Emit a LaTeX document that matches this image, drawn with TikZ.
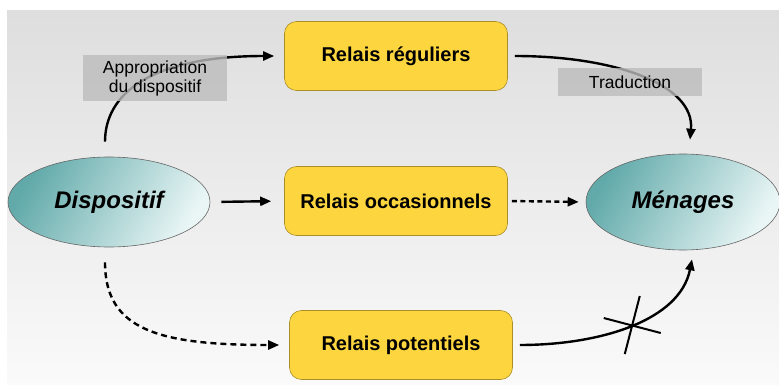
\documentclass[tikz,border=0pt]{standalone}
\usepackage{fontspec}
\setmainfont{Liberation Sans}
\usetikzlibrary{arrows.meta,positioning,shapes.geometric,calc}
\definecolor{boxyellow}{RGB}{253,214,63}
\definecolor{boxedge}{RGB}{170,142,40}
\definecolor{tealdark}{RGB}{98,170,170}
\definecolor{teallight}{RGB}{234,246,246}
\definecolor{bgtop}{RGB}{222,222,222}
\definecolor{bgbottom}{RGB}{250,250,250}
\definecolor{tagfill}{RGB}{188,188,188}

\begin{document}
\begin{tikzpicture}[
  x=1pt,y=-1pt,
  >={Triangle[length=11pt,width=9pt]},
  relais/.style={draw=boxedge,line width=.6pt,fill=boxyellow,rounded corners=12pt,minimum width=223pt,minimum height=69pt,font=\fontsize{20}{24}\selectfont\bfseries},
  acteur/.style={ellipse,draw=black!60,line width=.6pt,left color=tealdark,right color=teallight,shading angle=60,minimum width=202pt,minimum height=90pt,inner sep=0pt,font=\fontsize{24}{28}\selectfont\bfseries\itshape},
  tag/.style={fill=tagfill,fill opacity=.8,text opacity=1,minimum width=144pt,inner sep=0pt,align=center,font=\fontsize{17.5}{19}\selectfont},
  fleche/.style={->,line width=2.4pt}
]
\useasboundingbox (0,0) rectangle (779,385);
\fill[top color=bgtop,bottom color=bgbottom] (7,11) rectangle (779,385);
% les deux acteurs
\node[acteur] (disp) at (109,202) {Dispositif};
\node[acteur,minimum width=194pt,minimum height=96pt] (men) at (683,202) {Ménages};
% les relais
\node[relais] (reg) at (396,56) {Relais réguliers};
\node[relais] (occ) at (396,201) {Relais occasionnels};
\node[relais] (pot) at (401,345) {Relais potentiels};
% liens
\draw[fleche,shorten <=11pt,shorten >=13pt] (disp.east) -- (occ.west);
\draw[fleche,dash pattern=on 5pt off 3.5pt,shorten <=4pt,shorten >=7pt] (occ.east) -- (men.west);
\draw[fleche] ([xshift=-4pt,yshift=15pt]disp.north) .. controls +(0,-47) and +(-125,0) .. ([xshift=-10pt]reg.west);
\draw[fleche] ([xshift=7pt]reg.east) .. controls +(100,0) and +(5,-55) .. ([xshift=7pt,yshift=14pt]men.north);
\draw[fleche,dash pattern=on 6pt off 4pt] ([xshift=-4pt,yshift=-15pt]disp.south) .. controls +(0,68) and +(-120,0) .. ([xshift=-10pt]pot.west);
\draw[fleche] ([xshift=7pt]pot.east) .. controls +(81,0) and +(-12,61) .. ([xshift=9pt,yshift=-9pt]men.south)
  coordinate[pos=.5] (coupure);
\draw[line width=2pt] ([shift={(-28,-7)}]coupure) -- ([shift={(29,8)}]coupure);
\draw[line width=2pt] ([shift={(8,-29)}]coupure) -- ([shift={(-7,29)}]coupure);
% etiquettes
\node[tag,minimum height=46pt] (appr) at (155,78) {Appropriation\\du dispositif};
\node[tag,minimum height=28pt] (trad) at (630,82) {Traduction};
\end{tikzpicture}
\end{document}
